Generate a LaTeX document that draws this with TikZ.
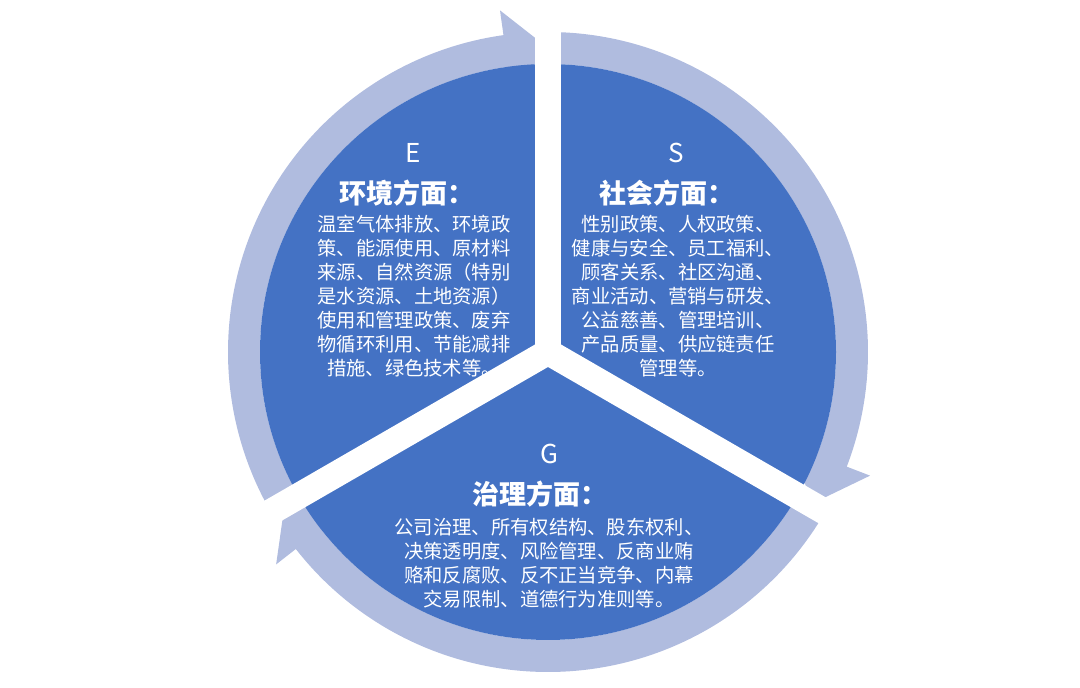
\documentclass[tikz,border=0pt]{standalone}
\usepackage{fontspec}
\setmainfont{Noto Sans CJK SC}
\newcommand{\ringarrow}[3]{%
  \fill[ring] (#1:320) arc[start angle=#1,end angle=#2,radius=320] -- (#2:345) -- (#3:304) -- (#2:263) -- (#2:288)
    arc[start angle=#2,end angle=#1,radius=288] -- cycle;}
\begin{document}
\begin{tikzpicture}[x=1pt, y=1pt,
    ring/.style = {fill={rgb,255:red,176;green,188;blue,223}},
    letter/.style = {text=white, font=\fontsize{26}{30}\selectfont},
    title/.style = {text=white, font=\fontsize{27}{30}\selectfont\bfseries},
    body/.style = {text=white, align=center, font=\fontsize{19.3}{24}\selectfont}]
    \useasboundingbox (0,0) rectangle (1080,688);
    \begin{scope}[shift={(548,336)}]
        \coordinate (c) at (0,0);
        \ringarrow{212}{98}{90}
        \ringarrow{90}{-21}{-30}
        \ringarrow{-30}{-142}{-150}
        \fill[fill={rgb,255:red,68;green,114;blue,196}] (c) circle[radius=288];
        \draw[white, line width=26pt] (c) -- (90:360);
        \draw[white, line width=26pt] (c) -- (210:370);
        \draw[white, line width=26pt] (c) -- (-30:370);
    \end{scope}
    % E
    \node[letter] (e) at (413,535) {E};
    \node[title] (etitle) at (407,495) {环境方面：};
    \node[body] (ebody) at (414,392) {温室气体排放、环境政\\策、能源使用、原材料\\来源、自然资源（特别\\是水资源、土地资源）\\使用和管理政策、废弃\\物循环利用、节能减排\\措施、绿色技术等。};
    % S
    \node[letter] (s) at (676,535) {S};
    \node[title] (stitle) at (667,495) {社会方面：};
    \node[body] (sbody) at (678,392) {性别政策、人权政策、\\健康与安全、员工福利、\\顾客关系、社区沟通、\\商业活动、营销与研发、\\公益慈善、管理培训、\\产品质量、供应链责任\\管理等。};
    % G
    \node[letter] (g) at (549,234) {G};
    \node[title] (gtitle) at (540,194) {治理方面：};
    \node[body] (gbody) at (549,125) {公司治理、所有权结构、股东权利、\\决策透明度、风险管理、反商业贿\\赂和反腐败、反不正当竞争、内幕\\交易限制、道德行为准则等。};
\end{tikzpicture}
\end{document}
